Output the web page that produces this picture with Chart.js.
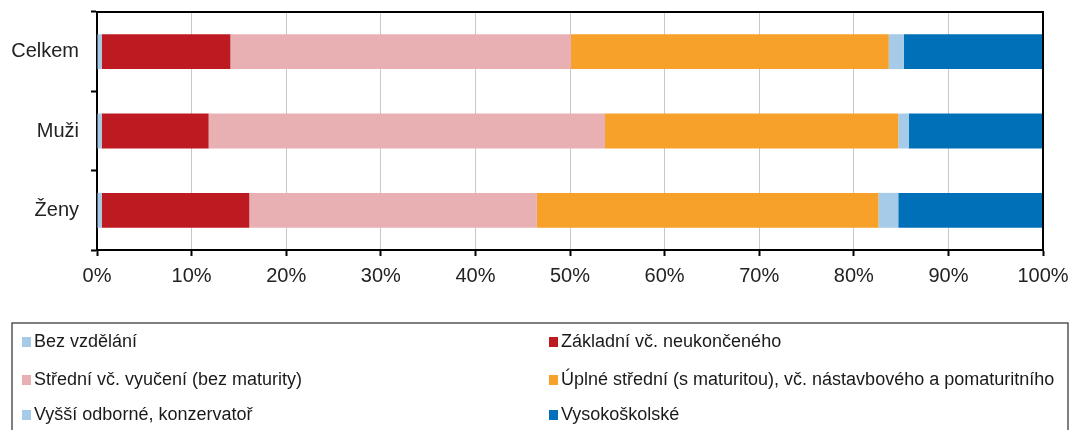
<!DOCTYPE html>
<html>
<head>
<meta charset="utf-8">
<script src="https://cdn.jsdelivr.net/npm/chart.js@4.4.0/dist/chart.umd.min.js"></script>
<style>
    html, body { margin: 0; padding: 0; background: #fff; }
</style>
</head>
<body>
<canvas id="myChart" width="1070" height="430"></canvas>
<script>
// categories and series (share in %)
const categories = ['Celkem', 'Muži', 'Ženy'];
const bezVzdelani = [0.5, 0.5, 0.5];
const zakladni = [13.6, 11.3, 15.6];
const stredni = [36.0, 41.9, 30.4];
const uplneStredni = [33.6, 31.0, 36.1];
const vyssiOdborne = [1.6, 1.1, 2.1];
const vysokoskolske = [14.7, 14.2, 15.3];
const xTickValues = [0, 10, 20, 30, 40, 50, 60, 70, 80, 90, 100];

(() => {
    'use strict'

    const FONT = '"Liberation Sans", Arial, sans-serif'

    // black line on top and right side of the plot
    const frame = {
        id: 'frame',
        afterDatasetsDraw(chart) {
            const { ctx, chartArea: a } = chart
            ctx.save()
            ctx.strokeStyle = '#000'
            ctx.lineWidth = 2
            ctx.beginPath()
            ctx.moveTo(a.left, a.top)
            ctx.lineTo(a.right, a.top)
            ctx.lineTo(a.right, a.bottom)
            ctx.stroke()
            ctx.restore()
        }
    }

    // two column legend in a box under the chart
    const boxLegend = {
        id: 'boxLegend',
        afterDraw(chart) {
            const ctx = chart.ctx
            ctx.save()
            ctx.strokeStyle = '#555'
            ctx.lineWidth = 1.5
            ctx.strokeRect(12, 323, 1056, 130)
            ctx.font = '18px ' + FONT
            ctx.textBaseline = 'middle'
            const cols = [22, 549]
            const rows = [342, 380, 415]
            chart.data.datasets.forEach((ds, i) => {
                const x = cols[i % 2]
                const y = rows[Math.floor(i / 2)]
                ctx.fillStyle = ds.backgroundColor
                ctx.fillRect(x, y - 5, 9, 10)
                ctx.fillStyle = '#1a1a1a'
                ctx.fillText(ds.label, x + 12, y)
            })
            ctx.restore()
        }
    }

    const ctx = document.getElementById('myChart')
    // eslint-disable-next-line no-unused-vars
    const myChart = new Chart(ctx, {
        type: 'bar',
        data: {
            labels: categories,
            datasets: [
                { label: 'Bez vzdělání', data: bezVzdelani, backgroundColor: '#a6cbe8' },
                { label: 'Základní vč. neukončeného', data: zakladni, backgroundColor: '#be1a22' },
                { label: 'Střední vč. vyučení (bez maturity)', data: stredni, backgroundColor: '#e8b0b3' },
                { label: 'Úplné střední (s maturitou), vč. nástavbového a pomaturitního', data: uplneStredni, backgroundColor: '#f7a12a' },
                { label: 'Vyšší odborné, konzervatoř', data: vyssiOdborne, backgroundColor: '#a6cbe8' },
                { label: 'Vysokoškolské', data: vysokoskolske, backgroundColor: '#0070b8' }
            ]
        },
        options: {
            indexAxis: 'y',
            responsive: false,
            animation: false,
            datasets: {
                bar: {
                    categoryPercentage: 1,
                    barPercentage: 0.44,
                    borderWidth: 0
                }
            },
            layout: {
                padding: { top: 12, right: 0, bottom: 142, left: 0 }
            },
            scales: {
                x: {
                    stacked: true,
                    min: 0,
                    max: 100,
                    afterBuildTicks(scale) {
                        scale.ticks = xTickValues.map(v => ({ value: v }))
                    },
                    afterFit(scale) {
                        scale.height = 38
                        scale.paddingLeft = 0
                        scale.paddingRight = 27
                    },
                    ticks: {
                        callback: v => v + '%',
                        color: '#222',
                        padding: 8,
                        maxRotation: 0,
                        font: { family: FONT, size: 20 }
                    },
                    grid: {
                        color: '#c8c8c8',
                        lineWidth: 1,
                        tickColor: '#000',
                        tickLength: 6,
                        tickWidth: 2
                    },
                    border: { color: '#000', width: 2 }
                },
                y: {
                    stacked: true,
                    afterFit(scale) {
                        scale.width = 97
                        scale.paddingTop = 0
                        scale.paddingBottom = 0
                    },
                    ticks: {
                        color: '#222',
                        padding: 12,
                        font: { family: FONT, size: 20 }
                    },
                    grid: {
                        offset: true,
                        drawOnChartArea: false,
                        tickColor: '#000',
                        tickLength: 6,
                        tickWidth: 2
                    },
                    border: { color: '#000', width: 2 }
                }
            },
            plugins: {
                legend: { display: false },
                tooltip: { enabled: false }
            }
        },
        plugins: [frame, boxLegend]
    })
})()
</script>
</body>
</html>
